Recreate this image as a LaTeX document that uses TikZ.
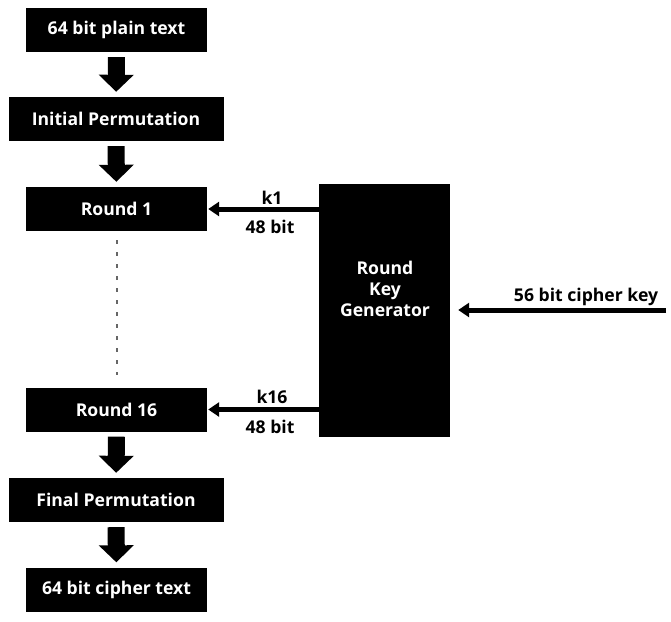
\documentclass[tikz,border=0pt]{standalone}
\usepackage{fontspec}
\setmainfont{Open Sans}
\usetikzlibrary{arrows.meta}
\begin{document}
\begin{tikzpicture}[x=1pt,y=-1pt,
  font=\fontsize{17.6}{21}\selectfont\bfseries,
  blk/.style={fill=black,text=white,inner sep=0pt,minimum height=44pt},
  narrow/.style={blk,minimum width=181pt},
  wide/.style={blk,minimum width=215pt},
  bigarrow/.style={line width=17pt,-{Triangle[width=34pt,length=17pt]},shorten <=5pt,shorten >=5pt},
  keyarrow/.style={line width=5pt,-{Triangle[width=14pt,length=11pt]}},
  lbl/.style={text=black,inner sep=0pt}]
\useasboundingbox (0,0) rectangle (671,621);
\node[narrow] (pt) at (116.5,30) {64 bit plain text};
\node[wide] (ip) at (116,119) {Initial Permutation};
\node[narrow] (r1) at (116.5,209) {Round 1};
\node[narrow] (r16) at (116.5,409.5) {Round 16};
\node[wide] (fp) at (116,500) {Final Permutation};
\node[narrow] (ct) at (116.5,589.5) {64 bit cipher text};
\node[fill=black,inner sep=0pt,minimum width=131pt,minimum height=253pt] (kg) at (384.5,310.5) {};
\node[text=white,align=center,inner sep=0pt] (kgt) at (385,289) {Round\\Key\\Generator};
\draw[bigarrow] (pt) -- (ip);
\draw[bigarrow] (ip) -- (r1);
\draw[bigarrow] (r16) -- (fp);
\draw[bigarrow] (fp) -- (ct);
\draw[black!60,line width=2pt,dash pattern=on 4pt off 8pt,shorten <=9pt,shorten >=12pt] (r1) -- (r16);
\draw[keyarrow,shorten >=1pt] (kg.west |- r1) -- (r1.east);
\draw[keyarrow,shorten >=1pt] (kg.west |- r16) -- (r16.east);
\coordinate (ck) at (666,310);
\draw[keyarrow,shorten >=8pt] (ck) -- (kg.east |- ck);
\node[lbl] (k1) at (272,198) {k1};
\node[lbl] (b1) at (270,227) {48 bit};
\node[lbl] (k16) at (272,397) {k16};
\node[lbl] (b16) at (270,427) {48 bit};
\node[lbl] (ckl) at (586,297) {56 bit cipher key};
\end{tikzpicture}
\end{document}
